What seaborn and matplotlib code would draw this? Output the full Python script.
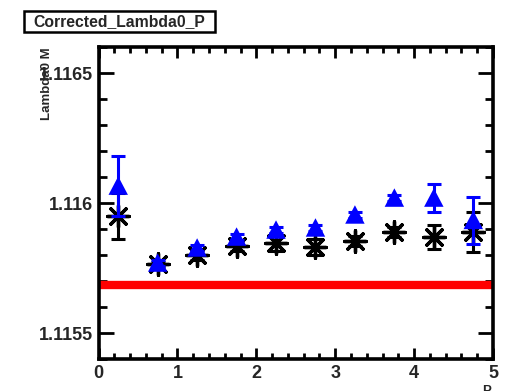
import matplotlib
matplotlib.use("Agg")
import matplotlib.pyplot as plt
import seaborn as sns
import pandas as pd
import numpy as np
from matplotlib.patches import Rectangle
from matplotlib.ticker import MultipleLocator

# ---- data ----
p_bins = [0.25, 0.75, 1.25, 1.75, 2.25, 2.75, 3.25, 3.75, 4.25, 4.75]
mass_black = [1.11595, 1.115765, 1.1158, 1.115835, 1.115846, 1.115831, 1.115854, 1.115888, 1.115869, 1.115888]
err_black = [0.000088, 0.00001, 0.00002, 0.00002, 0.00003, 0.00003, 0.00002, 0.00002, 0.000046, 0.000077]
mass_blue = [1.116065, 1.115769, 1.115827, 1.115869, 1.115896, 1.115904, 1.115954, 1.116019, 1.116019, 1.115933]
err_blue = [0.000115, 0.00001, 0.00001, 0.00001, 0.00001, 0.00001, 0.00001, 0.00001, 0.000054, 0.00009]
pdg_x = [0.0, 5.0]
pdg_mass = [1.115683, 1.115683]
title = "Corrected_Lambda0_P"
ylabel = "Lambda0 M"
xlabel = "P"

sns.set_style("white")
plt.rcParams['font.family'] = ['Liberation Sans', 'DejaVu Sans']
plt.rcParams['font.weight'] = 'bold'

fig = plt.figure(figsize=(5.2, 3.91), dpi=100)
ax = fig.add_axes([98.5/520, 1-359/391, (493-98.5)/520, (359-47)/391])

df_line = pd.DataFrame({"P": pdg_x, "M": pdg_mass})
sns.lineplot(data=df_line, x="P", y="M", ax=ax, color="#ff0000", linewidth=6, zorder=1)

dfb = pd.DataFrame({"P": p_bins, "M": mass_black, "E": err_black})
dfl = pd.DataFrame({"P": p_bins, "M": mass_blue, "E": err_blue})

tri = [(-1, -0.9), (1, -0.9), (0, 1), (-1, -0.9)]

ax.errorbar(dfb["P"], dfb["M"], yerr=dfb["E"], fmt='none', ecolor='black',
            elinewidth=2.2, capsize=5, capthick=2.2, zorder=2)
sns.scatterplot(data=dfb, x="P", y="M", ax=ax, marker=(8, 2, 0), s=15.5**2,
                color='black', linewidth=2.4, zorder=3)
ax.errorbar(dfl["P"], dfl["M"], yerr=dfl["E"], fmt='none', ecolor='#0000ff',
            elinewidth=2.2, capsize=5, capthick=2.2, zorder=4)
sns.scatterplot(data=dfl, x="P", y="M", ax=ax, marker=tri, s=14**2,
                color='#0000ff', edgecolor='none', linewidth=0, zorder=5)

ax.set_xlim(0, 5)
ax.set_ylim(1.1154, 1.1166)
ax.set_xlabel("")
ax.set_ylabel("")

ax.xaxis.set_major_locator(MultipleLocator(1))
ax.xaxis.set_minor_locator(MultipleLocator(0.2))
ax.yaxis.set_major_locator(MultipleLocator(0.0005))
ax.yaxis.set_minor_locator(MultipleLocator(0.0001))
ax.yaxis.set_major_formatter(matplotlib.ticker.FuncFormatter(lambda v, p: f"{v:.4f}".rstrip('0')))

ax.tick_params(axis='both', which='both', direction='in', top=True, right=True,
               bottom=True, left=True, color='black', width=2)
ax.tick_params(axis='y', which='major', length=11, pad=4, labelsize=13)
ax.tick_params(axis='y', which='minor', length=6)
ax.tick_params(axis='x', which='major', length=8, pad=4, labelsize=13)
ax.tick_params(axis='x', which='minor', length=4)
for lab in ax.get_xticklabels() + ax.get_yticklabels():
    lab.set_fontweight('bold')
for sp in ax.spines.values():
    sp.set_linewidth(2.6)
    sp.set_color('black')
    sp.set_visible(True)

# title box
fig.patches.append(Rectangle((24/520, 1-32/391), (215-24)/520, (32-11)/391,
                             transform=fig.transFigure, facecolor='white',
                             edgecolor='black', linewidth=1.8, zorder=5))
fig.text(119/520, 1-21.5/391, title, ha='center', va='center',
         fontsize=11.3, fontweight='bold', zorder=6)

fig.text(47.5/520, 1-47/391, ylabel, rotation=90, ha='center', va='top',
         fontsize=9.5, fontweight='bold')
fig.text(487/520, 1-385/391, xlabel, ha='center', va='top',
         fontsize=9.5, fontweight='bold')

fig.savefig("out.png", dpi=100, facecolor='white')
